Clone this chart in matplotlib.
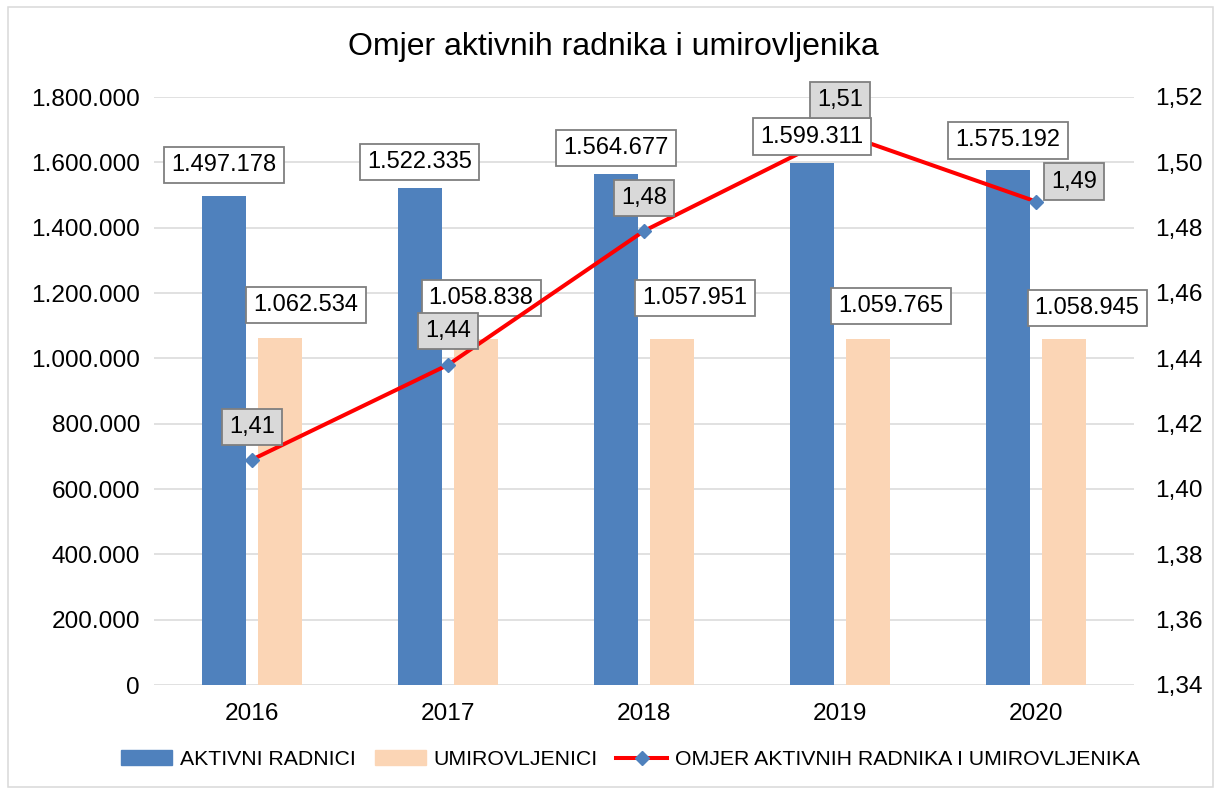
import matplotlib
matplotlib.use("Agg")
import matplotlib.pyplot as plt
from matplotlib.patches import Patch, Rectangle
from matplotlib.lines import Line2D
from matplotlib.ticker import FuncFormatter, MultipleLocator
import numpy as np

plt.rcParams['font.family'] = ['Liberation Sans', 'DejaVu Sans']

# podaci
godine = ['2016', '2017', '2018', '2019', '2020']
aktivni = [1497178, 1522335, 1564677, 1599311, 1575192]
umirovljenici = [1062534, 1058838, 1057951, 1059765, 1058945]
omjer = [1.409, 1.438, 1.479, 1.509, 1.488]

plava = '#4f81bd'
narancasta = '#fbd5b5'
siva = '#d9d9d9'

# pomaci oznaka (u pikselima)
pomak_aktivni = [(0, 31), (0, 26), (0, 26), (0, 26), (0, 30)]
pomak_umirov = [(26, 33), (5, 41), (23, 41), (23, 33), (23, 31)]
pomak_omjer = [(0, 33), (0, 34), (0, 33), (0, 33), (38, 20)]


def tisuce(v, pos=None):
    return f"{int(v):,}".replace(",", ".")


def zarez(v, pos=None):
    return f"{v:.2f}".replace(".", ",")


fig = plt.figure(figsize=(12.15, 7.89), dpi=100)
ax = fig.add_axes([154 / 1215, 104 / 789, 980 / 1215, 588 / 789])
ax2 = ax.twinx()

x = np.arange(len(godine))
sirina = 0.224
ax.bar(x - 0.143, aktivni, sirina, color=plava, zorder=2)
ax.bar(x + 0.143, umirovljenici, sirina, color=narancasta, zorder=2)

ax.set_xlim(-0.5, 4.5)
ax.set_ylim(0, 1800000)
ax.yaxis.set_major_locator(MultipleLocator(200000))
ax.yaxis.set_major_formatter(FuncFormatter(tisuce))
ax.grid(axis='y', color=siva, linewidth=1.1, zorder=0)
ax.set_axisbelow(True)
ax.set_xticks(x)
ax.set_xticklabels(godine)
ax.tick_params(axis='both', length=0, labelsize=17.6)
ax.tick_params(axis='x', pad=13)
ax.tick_params(axis='y', pad=10)
for s in ax.spines.values():
    s.set_visible(False)

ax2.plot(x, omjer, color='#ff0000', linewidth=2.9, marker='D', markersize=7,
         markerfacecolor=plava, markeredgecolor=plava, zorder=3)
ax2.set_ylim(1.34, 1.52)
ax2.yaxis.set_major_locator(MultipleLocator(0.02))
ax2.yaxis.set_major_formatter(FuncFormatter(zarez))
ax2.tick_params(axis='y', length=0, labelsize=17.6, pad=15)
for s in ax2.spines.values():
    s.set_visible(False)

bijeli_okvir = dict(boxstyle='square,pad=0.3', fc='white', ec='#7f7f7f', lw=1.3)
sivi_okvir = dict(boxstyle='square,pad=0.3', fc=siva, ec='#7f7f7f', lw=1.3)

for i in range(len(godine)):
    # 2019. oznaka prekriva liniju
    cilj = ax2 if i == 3 else ax
    cilj.annotate(tisuce(aktivni[i]), xy=(x[i] - 0.143, aktivni[i]), xycoords=ax.transData,
                  xytext=pomak_aktivni[i], textcoords='offset pixels',
                  ha='center', va='center', fontsize=17, bbox=bijeli_okvir, zorder=5)
    ax.annotate(tisuce(umirovljenici[i]), xy=(x[i] + 0.143, umirovljenici[i]),
                xytext=pomak_umirov[i], textcoords='offset pixels',
                ha='center', va='center', fontsize=17, bbox=bijeli_okvir, zorder=5)
    ax2.annotate(zarez(omjer[i]), xy=(x[i], omjer[i]),
                 xytext=pomak_omjer[i], textcoords='offset pixels',
                 ha='center', va='center', fontsize=17, bbox=sivi_okvir, zorder=6)

fig.text(0.505, 0.9404, 'Omjer aktivnih radnika i umirovljenika',
         ha='center', va='center', fontsize=23)

rucke = [Patch(color=plava), Patch(color=narancasta),
         Line2D([], [], color='#ff0000', linewidth=2.9, marker='D', markersize=7,
                markerfacecolor=plava, markeredgecolor=plava)]
fig.legend(rucke, ['AKTIVNI RADNICI', 'UMIROVLJENICI', 'OMJER AKTIVNIH RADNIKA I UMIROVLJENIKA'],
           loc='center', bbox_to_anchor=(0.519, 0.037), ncol=3, frameon=False,
           fontsize=15.3, handlelength=2.4, handletextpad=0.35, columnspacing=0.9)

fig.patches.append(Rectangle((0.0066, 0.0025), 0.9914, 0.9885, transform=fig.transFigure,
                             fill=False, ec=siva, lw=1.1))

fig.savefig('out.png', dpi=100)
